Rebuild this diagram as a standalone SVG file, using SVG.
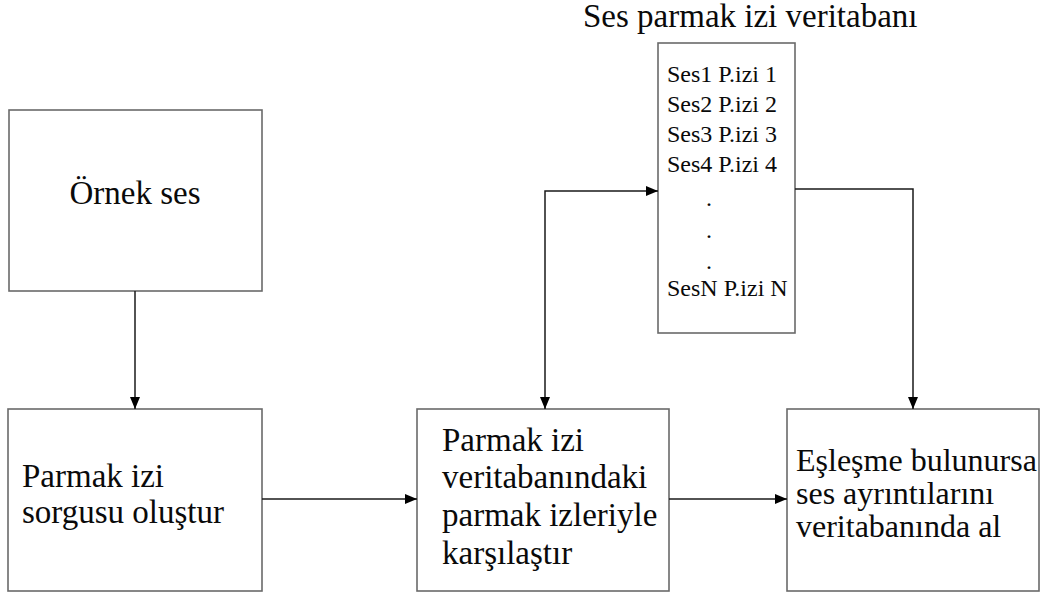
<svg xmlns="http://www.w3.org/2000/svg" width="1046" height="598" viewBox="0 0 1046 598">
  <style>
    .box { fill: #ffffff; stroke: #6a6a6a; stroke-width: 1.6; }
    .txt { font-family: "Liberation Serif", "Times New Roman", serif; fill: #0a0a0a; }
    .big { font-size: 33px; }
    .mid { font-size: 32px; }
    .small { font-size: 24px; }
    .conn { fill: none; stroke: #1a1a1a; stroke-width: 1.5; }
  </style>
  <defs>
    <marker id="arrow" viewBox="0 0 12 10" refX="12" refY="5" markerWidth="12" markerHeight="10" markerUnits="userSpaceOnUse" orient="auto-start-reverse">
      <path d="M0,0 L12,5 L0,10 z" fill="#000000"/>
    </marker>
  </defs>
  <rect width="1046" height="598" fill="#ffffff"/>

  <!-- Sample audio -->
  <g id="node-ornek-ses">
    <rect class="box" x="9" y="110" width="253" height="181"/>
    <text class="txt big" x="135" y="204" text-anchor="middle">Örnek ses</text>
  </g>

  <!-- Build fingerprint query -->
  <g id="node-sorgu">
    <rect class="box" x="8" y="409" width="254" height="182"/>
    <text class="txt big" x="22" y="487">Parmak izi</text>
    <text class="txt big" x="22" y="523">sorgusu oluştur</text>
  </g>

  <!-- Compare against the database -->
  <g id="node-karsilastir">
    <rect class="box" x="417" y="409" width="252" height="182"/>
    <text class="txt big" x="442" y="451">Parmak izi</text>
    <text class="txt big" x="442" y="488">veritabanındaki</text>
    <text class="txt big" x="442" y="526">parmak izleriyle</text>
    <text class="txt big" x="442" y="564">karşılaştır</text>
  </g>

  <!-- Fetch details on match -->
  <g id="node-sonuc">
    <rect class="box" x="787" y="409" width="252" height="182"/>
    <text class="txt mid" x="796" y="471">Eşleşme bulunursa</text>
    <text class="txt mid" x="796" y="504">ses ayrıntılarını</text>
    <text class="txt mid" x="796" y="537">veritabanında al</text>
  </g>

  <!-- Fingerprint database -->
  <g id="node-veritabani">
    <text class="txt big" x="583" y="27">Ses parmak izi veritabanı</text>
    <rect class="box" x="658" y="43" width="137" height="290"/>
    <text class="txt small" x="667" y="82">Ses1 P.izi 1</text>
    <text class="txt small" x="667" y="112">Ses2 P.izi 2</text>
    <text class="txt small" x="667" y="142">Ses3 P.izi 3</text>
    <text class="txt small" x="667" y="172">Ses4 P.izi 4</text>
    <text class="txt small" x="706" y="206">.</text>
    <text class="txt small" x="706" y="238">.</text>
    <text class="txt small" x="706" y="269">.</text>
    <text class="txt small" x="667" y="296">SesN P.izi N</text>
  </g>

  <g id="connectors">
    <path class="conn" d="M135,291 V409" marker-end="url(#arrow)"/>
    <path class="conn" d="M262,499 H417" marker-end="url(#arrow)"/>
    <path class="conn" d="M669,499 H787" marker-end="url(#arrow)"/>
    <path class="conn" d="M545,409 V191 H658" marker-start="url(#arrow)" marker-end="url(#arrow)"/>
    <path class="conn" d="M795,189 H913 V409" marker-end="url(#arrow)"/>
  </g>
</svg>
